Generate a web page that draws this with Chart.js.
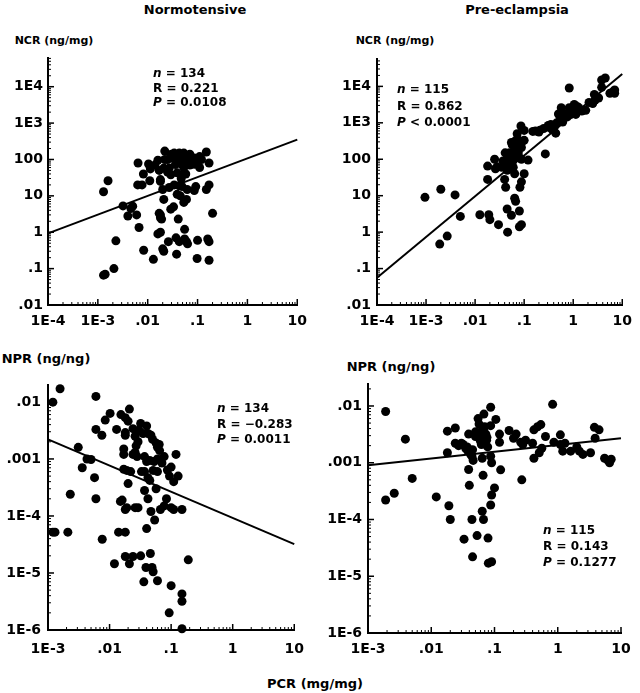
<!DOCTYPE html>
<html>
<head>
<meta charset="utf-8">
<script src="https://cdn.jsdelivr.net/npm/chart.js@4.4.0/dist/chart.umd.min.js"></script>
<style>
  html, body { margin: 0; padding: 0; background: #fff; }
  #wrap { position: relative; width: 640px; height: 693px; background: #fff; font-family: 'DejaVu Sans', sans-serif; font-weight: bold; color: #000; }
  .box { position: absolute; }
  .lbl { position: absolute; white-space: nowrap; transform: translate(-50%, -50%); }
  .note { position: absolute; white-space: nowrap; font-size: 12px; }
  .note i { font-style: italic; }
</style>
</head>
<body>
<div id="wrap">
  <div class="lbl" style="left:195px;top:9px;font-size:13px">Normotensive</div>
  <div class="lbl" style="left:517px;top:9px;font-size:13px">Pre-eclampsia</div>
  <div class="lbl" style="left:54px;top:40px;font-size:11px">NCR (ng/mg)</div>
  <div class="lbl" style="left:395px;top:40px;font-size:11px">NCR (ng/mg)</div>
  <div class="lbl" style="left:46px;top:358px;font-size:13px">NPR (ng/ng)</div>
  <div class="lbl" style="left:391px;top:366px;font-size:13px">NPR (ng/ng)</div>
  <div class="lbl" style="left:315px;top:683px;font-size:13px">PCR (mg/mg)</div>

  <div class="box" style="left:0;top:45px;width:315px;height:295px"><canvas id="normNcr"></canvas></div>
  <div class="box" style="left:320px;top:45px;width:320px;height:295px"><canvas id="preNcr"></canvas></div>
  <div class="box" style="left:0;top:370px;width:315px;height:290px"><canvas id="normNpr"></canvas></div>
  <div class="box" style="left:320px;top:370px;width:320px;height:290px"><canvas id="preNpr"></canvas></div>

  <div class="note" style="left:153px;top:66px;line-height:14.5px"><i>n</i> = 134<br>R = 0.221<br><i>P</i> = 0.0108</div>
  <div class="note" style="left:397px;top:81px;line-height:16.5px"><i>n</i> = 115<br>R = 0.862<br><i>P</i> &lt; 0.0001</div>
  <div class="note" style="left:217px;top:401px;line-height:15.5px"><i>n</i> = 134<br>R = &minus;0.283<br><i>P</i> = 0.0011</div>
  <div class="note" style="left:543px;top:522px;line-height:16px"><i>n</i> = 115<br>R = 0.143<br><i>P</i> = 0.1277</div>
</div>

<script>
// tick values and labels
const ncrTicks = [0.01, 0.1, 1, 10, 100, 1000, 10000];
const ncrTickLabels = ['.01', '.1', '1', '10', '100', '1E3', '1E4'];
const nprTicks = [1e-6, 1e-5, 1e-4, 0.001, 0.01];
const nprTickLabels = ['1E-6', '1E-5', '1E-4', '.001', '.01'];
const pcrTicksTop = [1e-4, 1e-3, 0.01, 0.1, 1, 10];
const pcrTickLabelsTop = ['1E-4', '1E-3', '.01', '.1', '1', '10'];
const pcrTicksBottom = [1e-3, 0.01, 0.1, 1, 10];
const pcrTickLabelsBottom = ['1E-3', '.01', '.1', '1', '10'];

// Normotensive: NCR vs PCR
const normNcrX = [0.0013, 0.0016, 0.0032, 0.0046, 0.005, 0.004, 0.006, 0.0067, 0.0064, 0.0063,
  0.0077, 0.0082, 0.0104, 0.011, 0.0113, 0.016, 0.017, 0.018, 0.018, 0.02,
  0.021, 0.022, 0.022, 0.025, 0.027, 0.029, 0.027, 0.03, 0.034, 0.036,
  0.039, 0.043, 0.046, 0.053, 0.049, 0.053, 0.058, 0.07, 0.074, 0.086,
  0.097, 0.11, 0.12, 0.15, 0.17, 0.034, 0.043, 0.049, 0.062, 0.092,
  0.15, 0.17, 0.086, 0.039, 0.045, 0.053, 0.06, 0.029, 0.033, 0.017,
  0.018, 0.018, 0.019, 0.041, 0.2, 0.055, 0.016, 0.018, 0.026, 0.02,
  0.021, 0.0083, 0.013, 0.038, 0.037, 0.043, 0.055, 0.06, 0.063, 0.1,
  0.098, 0.16, 0.17, 0.17, 0.0023, 0.0021, 0.0013, 0.0014, 0.014, 0.021,
  0.031, 0.07, 0.086, 0.11, 0.049, 0.035, 0.04, 0.065, 0.025, 0.047];
const normNcrY = [13, 26, 5.3, 4.5, 5.2, 2.8, 3, 1.35, 80, 20,
  20, 40, 75, 26, 55, 95, 50, 25, 28, 15,
  8, 100, 170, 100, 58, 38, 17, 140, 150, 73,
  43, 150, 110, 150, 73, 60, 40, 140, 90, 74,
  90, 60, 100, 160, 80, 20, 19, 18, 15, 18,
  15, 20, 14, 11, 10, 6.6, 8, 4.3, 5, 3.3,
  3, 2.5, 2.3, 2.3, 3.3, 1.2, 0.9, 1, 0.55, 0.35,
  0.3, 0.32, 0.18, 0.25, 0.7, 0.55, 0.65, 0.55, 0.48, 0.6,
  0.19, 0.65, 0.55, 0.17, 0.58, 0.1, 0.066, 0.07, 70, 58,
  110, 70, 110, 120, 38, 120, 90, 100, 45, 30];
const normNcrFitX = [1e-4, 10];
const normNcrFitY = [0.93, 350];

// Pre-eclampsia: NCR vs PCR
const preNcrX = [0.00095, 0.002, 0.0039, 0.005, 0.0019, 0.0027, 0.0125, 0.019, 0.02, 0.03,
  0.046, 0.045, 0.055, 0.064, 0.067, 0.08, 0.08, 0.088, 0.018, 0.018,
  0.025, 0.026, 0.028, 0.04, 0.042, 0.041, 0.046, 0.05, 0.053, 0.057,
  0.062, 0.064, 0.064, 0.066, 0.072, 0.076, 0.08, 0.086, 0.088, 0.088,
  0.082, 0.1, 0.1, 0.1, 0.12, 0.072, 0.057, 0.05, 0.037, 0.046,
  0.055, 0.074, 0.088, 0.17, 0.21, 0.27, 0.31, 0.37, 0.41, 0.46,
  0.44, 0.5, 0.57, 0.61, 0.67, 0.83, 0.83, 1.05, 1.13, 1.3,
  1.5, 2.1, 2.5, 2.7, 3.3, 3.8, 3.8, 4.5, 5.6, 7,
  7, 6.5, 1.05, 0.76, 0.31, 0.25, 0.035, 0.04, 0.06, 0.07,
  0.09, 0.15, 0.2, 0.35, 0.55, 0.9, 1.2, 1.8, 2.8, 0.045, 0.06];
const preNcrY = [9, 15, 10.5, 2.7, 0.47, 0.78, 3, 3, 2.2, 1.6,
  1, 4.3, 2.9, 8.5, 7, 3.8, 1.4, 1.6, 28, 65,
  100, 55, 62, 28, 17, 150, 80, 65, 55, 80,
  140, 180, 40, 320, 230, 150, 110, 820, 100, 24,
  17, 620, 330, 40, 95, 500, 250, 150, 90, 110,
  290, 350, 210, 600, 630, 140, 850, 660, 770, 1000,
  520, 1750, 2600, 1050, 1780, 9000, 2600, 3200, 1700, 2600,
  2100, 3600, 3400, 6000, 4800, 9400, 15000, 17000, 6500, 8000,
  6500, 7200, 2200, 1450, 760, 700, 60, 70, 100, 130,
  300, 580, 560, 900, 1300, 1700, 2800, 2200, 4200, 50, 60];
const preNcrFitX = [1e-4, 10];
const preNcrFitY = [0.056, 22000];

// Normotensive: NPR vs PCR
const normNprX = [0.0012, 0.00157, 0.006, 0.0102, 0.0085, 0.0153, 0.018, 0.021, 0.02, 0.006,
  0.0075, 0.013, 0.018, 0.018, 0.024, 0.026, 0.032, 0.04, 0.042, 0.047,
  0.057, 0.064, 0.06, 0.029, 0.027, 0.026, 0.028, 0.017, 0.017, 0.037,
  0.04, 0.045, 0.053, 0.06, 0.071, 0.077, 0.087, 0.1, 0.094, 0.12,
  0.13, 0.11, 0.06, 0.051, 0.037, 0.042, 0.045, 0.019, 0.022, 0.02,
  0.033, 0.017, 0.037, 0.042, 0.057, 0.084, 0.047, 0.054, 0.067, 0.077,
  0.1, 0.11, 0.15, 0.015, 0.016, 0.018, 0.019, 0.026, 0.029, 0.0031,
  0.0043, 0.005, 0.0036, 0.0057, 0.006, 0.0023, 0.0012, 0.0013, 0.0021, 0.0076,
  0.014, 0.018, 0.04, 0.012, 0.018, 0.021, 0.024, 0.032, 0.046, 0.039,
  0.049, 0.051, 0.036, 0.06, 0.1, 0.19, 0.15, 0.15, 0.093, 0.15,
  0.035, 0.05, 0.065, 0.03, 0.024];
const normNprY = [0.0099, 0.017, 0.0125, 0.0063, 0.0048, 0.006, 0.0053, 0.0075, 0.0046, 0.0033,
  0.0026, 0.0033, 0.0029, 0.0026, 0.0034, 0.0025, 0.0042, 0.0038, 0.0028, 0.0026,
  0.0019, 0.0018, 0.0016, 0.002, 0.0017, 0.0013, 0.0011, 0.0015, 0.0012, 0.0011,
  0.0009, 0.00094, 0.0009, 0.001, 0.00085, 0.0011, 0.00064, 0.00072, 0.0005, 0.0012,
  0.0005, 0.0004, 0.0006, 0.00063, 0.0006, 0.00047, 0.00042, 0.00063, 0.0006, 0.00037,
  0.0006, 0.00066, 0.00028, 0.0002, 0.0003, 0.0002, 0.00012, 0.000085, 0.00013, 0.00015,
  0.00014, 0.00013, 0.00013, 0.00018, 0.00019, 0.00013, 0.00014, 0.00014, 0.00014, 0.0016,
  0.001, 0.00098, 0.0007, 0.00047, 0.0002, 0.00024, 0.000052, 0.000052, 0.000052, 0.000039,
  0.000052, 0.000052, 0.00006, 0.0000145, 0.0000195, 0.0000145, 0.0000195, 0.00002, 0.000022, 0.0000125,
  0.0000125, 0.0000105, 0.000007, 0.0000073, 0.000006, 0.000017, 0.0000043, 0.0000032, 0.000002, 0.00000105,
  0.0028, 0.0022, 0.0014, 0.0032, 0.0012];
const normNprFitX = [1e-3, 10];
const normNprFitY = [0.0022, 0.000032];

// Pre-eclampsia: NPR vs PCR
const preNprX = [0.0019, 0.0039, 0.005, 0.0019, 0.0026, 0.012, 0.018, 0.018, 0.019, 0.02,
  0.024, 0.024, 0.027, 0.03, 0.032, 0.033, 0.037, 0.038, 0.039, 0.039,
  0.04, 0.042, 0.044, 0.045, 0.044, 0.046, 0.05, 0.053, 0.055, 0.057,
  0.058, 0.06, 0.062, 0.064, 0.064, 0.066, 0.067, 0.068, 0.07, 0.073,
  0.076, 0.078, 0.079, 0.08, 0.087, 0.087, 0.087, 0.09, 0.09, 0.087,
  0.09, 0.1, 0.105, 0.12, 0.12, 0.125, 0.17, 0.2, 0.22, 0.26,
  0.27, 0.28, 0.31, 0.4, 0.42, 0.42, 0.48, 0.51, 0.54, 0.56,
  0.64, 0.83, 0.87, 1.1, 1.1, 1.2, 1.3, 1.6, 2, 2.2,
  2.5, 3.3, 3.8, 3.9, 4.5, 5.5, 6.2, 6.6, 7, 0.05,
  0.06, 0.075, 0.045, 0.065, 0.035];
const preNprY = [0.008, 0.0026, 0.00053, 0.00022, 0.00029, 0.00025, 0.0036, 0.0015, 0.000175, 0.0001,
  0.0041, 0.0022, 0.002, 0.0022, 0.0021, 0.000045, 0.0019, 0.0016, 0.0032, 0.00076,
  0.0004, 0.0014, 0.0001, 0.000022, 0.0013, 0.0011, 0.0029, 0.000052, 0.006, 0.0048,
  0.0034, 0.0024, 0.0021, 0.0012, 0.00014, 0.0006, 0.0001, 0.0072, 0.0043, 0.0032,
  0.0028, 0.0019, 0.000047, 0.000017, 0.0095, 0.0045, 0.0013, 0.001, 0.00027, 0.00018,
  0.000018, 0.00036, 0.0058, 0.0032, 0.0023, 0.00075, 0.0037, 0.0027, 0.0032, 0.0023,
  0.0005, 0.0021, 0.0025, 0.0022, 0.0038, 0.0012, 0.0043, 0.0015, 0.0047, 0.0018,
  0.0029, 0.0107, 0.0023, 0.0031, 0.0021, 0.0016, 0.0022, 0.0016, 0.0019, 0.0016,
  0.0014, 0.0015, 0.0042, 0.0027, 0.0038, 0.0012, 0.0011, 0.001, 0.00115, 0.0035,
  0.0028, 0.0025, 0.0017, 0.0038, 0.0018];
const preNprFitX = [1e-3, 10];
const preNprFitY = [0.0009, 0.0027];

const FONT = 'DejaVu Sans';

// inward major/minor tick marks on both axes
const tickMarks = {
  id: 'tickMarks',
  afterDraw(chart) {
    const ctx = chart.ctx;
    const a = chart.chartArea;
    ctx.save();
    ctx.strokeStyle = '#000';
    ['x', 'y'].forEach(id => {
      const s = chart.scales[id];
      const lo = Math.floor(Math.log10(s.min));
      const hi = Math.ceil(Math.log10(s.max));
      for (let k = lo; k <= hi; k++) {
        for (let m = 1; m <= 9; m++) {
          const v = m * Math.pow(10, k);
          if (v < s.min * 0.999 || v > s.max * 1.001) continue;
          const len = m === 1 ? 6 : 3;
          const p = s.getPixelForValue(v);
          ctx.lineWidth = m === 1 ? 1.5 : 1;
          ctx.beginPath();
          if (id === 'x') {
            ctx.moveTo(p, a.bottom);
            ctx.lineTo(p, a.bottom - len);
          } else {
            ctx.moveTo(a.left, p);
            ctx.lineTo(a.left + len, p);
          }
          ctx.stroke();
        }
      }
    });
    ctx.restore();
  }
};

function logAxis(position, min, max, vals, labels, size, pad) {
  return {
    type: 'logarithmic',
    position: position,
    min: min,
    max: max,
    grid: { display: true, drawOnChartArea: false, drawTicks: false },
    border: { color: '#000', width: 2 },
    ticks: {
      color: '#000',
      padding: pad,
      autoSkip: false,
      maxRotation: 0,
      font: { family: FONT, size: 14, weight: 'bold' },
      callback: (v, i) => labels[i]
    },
    afterBuildTicks: s => { s.ticks = vals.map(v => ({ value: v })); },
    afterFit: s => {
      if (position === 'left') s.width = size; else s.height = size;
    }
  };
}

function makePanel(id, p) {
  const pts = p.xs.map((x, i) => ({ x: x, y: p.ys[i] }));
  const fit = p.fitX.map((x, i) => ({ x: x, y: p.fitY[i] }));
  return new Chart(document.getElementById(id), {
    type: 'scatter',
    data: {
      datasets: [
        {
          type: 'line',
          data: fit,
          borderColor: '#000',
          borderWidth: 2,
          pointRadius: 0,
          fill: false,
          clip: false
        },
        {
          data: pts,
          backgroundColor: '#000',
          borderWidth: 0,
          pointRadius: 4.5,
          pointHoverRadius: 4.5,
          clip: false
        }
      ]
    },
    options: {
      responsive: true,
      maintainAspectRatio: false,
      animation: false,
      events: [],
      layout: { padding: { top: p.padTop, right: p.padRight, left: 0, bottom: 0 } },
      plugins: { legend: { display: false }, tooltip: { enabled: false } },
      scales: {
        x: logAxis('bottom', p.xMin, p.xMax, p.xTicks, p.xLabels, p.xHeight, p.xPad),
        y: logAxis('left', p.yMin, p.yMax, p.yTicks, p.yLabels, p.yWidth, p.yPad)
      }
    },
    plugins: [tickMarks]
  });
}

makePanel('normNcr', {
  xs: normNcrX, ys: normNcrY, fitX: normNcrFitX, fitY: normNcrFitY,
  xMin: 1e-4, xMax: 10, yMin: 0.01, yMax: 60000,
  xTicks: pcrTicksTop, xLabels: pcrTickLabelsTop, yTicks: ncrTicks, yLabels: ncrTickLabels,
  yWidth: 48, xHeight: 35, padTop: 8, padRight: 13, xPad: 8, yPad: 5
});
makePanel('preNcr', {
  xs: preNcrX, ys: preNcrY, fitX: preNcrFitX, fitY: preNcrFitY,
  xMin: 1e-4, xMax: 10, yMin: 0.01, yMax: 55000,
  xTicks: pcrTicksTop, xLabels: pcrTickLabelsTop, yTicks: ncrTicks, yLabels: ncrTickLabels,
  yWidth: 57, xHeight: 35, padTop: 7, padRight: 11, xPad: 8, yPad: 6
});
makePanel('normNpr', {
  xs: normNprX, ys: normNprY, fitX: normNprFitX, fitY: normNprFitY,
  xMin: 1e-3, xMax: 10, yMin: 1e-6, yMax: 0.0195,
  xTicks: pcrTicksBottom, xLabels: pcrTickLabelsBottom, yTicks: nprTicks, yLabels: nprTickLabels,
  yWidth: 48, xHeight: 30, padTop: 9, padRight: 15, xPad: 11, yPad: 7
});
makePanel('preNpr', {
  xs: preNprX, ys: preNprY, fitX: preNprFitX, fitY: preNprFitY,
  xMin: 1e-3, xMax: 10, yMin: 1e-6, yMax: 0.024,
  xTicks: pcrTicksBottom, xLabels: pcrTickLabelsBottom, yTicks: nprTicks, yLabels: nprTickLabels,
  yWidth: 48, xHeight: 27, padTop: 10, padRight: 19, xPad: 8, yPad: 6
});
</script>
</body>
</html>
